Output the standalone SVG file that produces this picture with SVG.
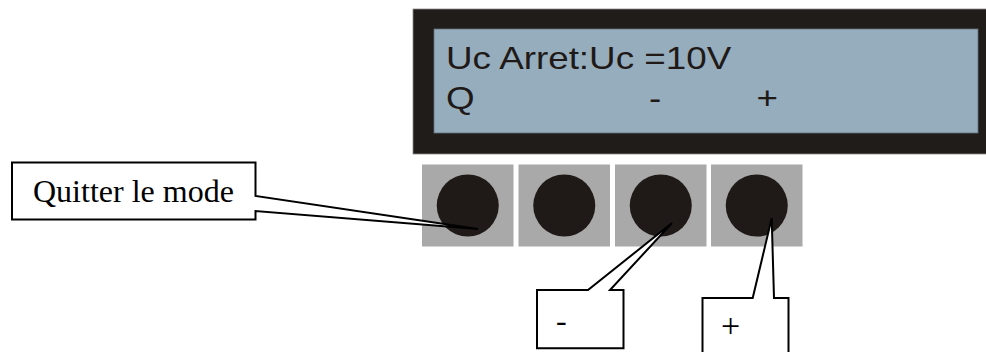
<svg xmlns="http://www.w3.org/2000/svg" width="986" height="352" viewBox="0 0 986 352">
  <style>
    .lcd-text { font-family: "Liberation Sans", Arial, sans-serif; font-size: 32px; fill: #1f1a17; }
    .label { font-family: "Liberation Serif", "Times New Roman", serif; font-size: 32px; fill: #000; }
    .key { fill: #a9a9a9; }
    .knob { fill: #1f1a17; }
    .callout { fill: #fff; stroke: #000; stroke-width: 2; stroke-linejoin: miter; }
  </style>

  <!-- display module -->
  <g id="display">
    <rect x="413" y="9" width="580" height="145" fill="#201c19" stroke="#8a8a8a" stroke-width="0.8"/>
    <rect x="434" y="29" width="544" height="104" fill="#96adbd" stroke="#5f6f79" stroke-width="0.8"/>
    <!-- LCD characters are slightly wide, so the lines are stretched horizontally -->
    <g transform="translate(446,0) scale(1.15,1)">
      <text class="lcd-text" x="0" y="69">Uc Arret:Uc =10V</text>
      <text class="lcd-text" y="109"><tspan x="0">Q</tspan><tspan x="176.5">-</tspan><tspan x="270">+</tspan></text>
    </g>
  </g>

  <!-- keypad -->
  <g id="key-q">
    <rect class="key" x="422" y="164.5" width="91.5" height="82"/>
    <circle class="knob" cx="467.75" cy="205.5" r="31"/>
  </g>
  <g id="key-2">
    <rect class="key" x="518.5" y="164.5" width="91.5" height="82"/>
    <circle class="knob" cx="564.25" cy="205.5" r="31"/>
  </g>
  <g id="key-minus">
    <rect class="key" x="615" y="164.5" width="91.5" height="82"/>
    <circle class="knob" cx="660.75" cy="205.5" r="31"/>
  </g>
  <g id="key-plus">
    <rect class="key" x="711" y="164.5" width="91.5" height="82"/>
    <circle class="knob" cx="756.75" cy="205.5" r="31"/>
  </g>

  <!-- callouts pointing at the keys -->
  <g id="connectors">
    <g id="callout-quit">
      <path class="callout" d="M12,162.5 H255.5 V196 L478,229 L255.5,211 V219.5 H12 Z"/>
      <text class="label" x="33" y="202">Quitter le mode</text>
    </g>
    <g id="callout-minus">
      <path class="callout" d="M537,290 H588 L672,223 L610,290 H623.5 V348.3 H537 Z"/>
      <text class="label" x="556" y="331">-</text>
    </g>
    <g id="callout-plus">
      <path class="callout" d="M702.5,298 H752.7 L771.7,218.3 L774,298 H788.5 V360 H702.5 Z"/>
      <text class="label" x="721" y="337" style="font-size:34px">+</text>
    </g>
  </g>
</svg>
